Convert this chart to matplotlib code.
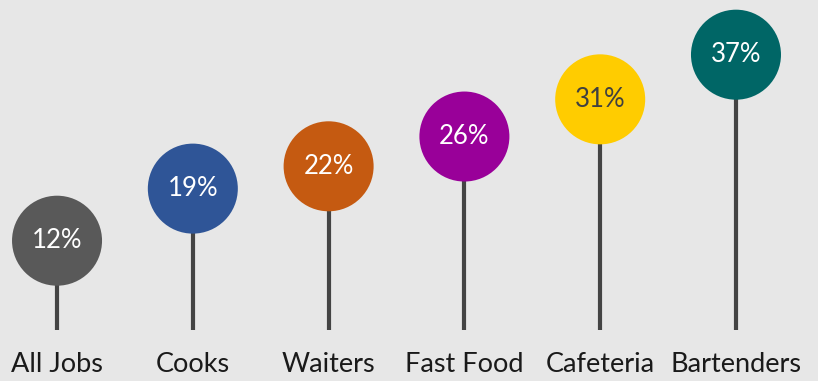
import matplotlib.pyplot as plt

categories = ["All Jobs", "Cooks", "Waiters", "Fast Food", "Cafeteria", "Bartenders"]
values = [12, 19, 22, 26, 31, 37]
colors = ["#595959", "#2f5597", "#c55a11", "#990099", "#ffcc00", "#006666"]
label_colors = ["white", "white", "white", "white", "#404040", "white"]

plt.rcParams["font.family"] = ["Lato", "DejaVu Sans"]

bg = "#e7e7e7"
fig = plt.figure(figsize=(8.18, 3.81), dpi=100, facecolor=bg)
ax = fig.add_axes([0, 0, 1, 1])
ax.set_facecolor(bg)

x = list(range(len(categories)))

# stems from zero up to the value
ax.vlines(x, 0, values, color="#444444", linewidth=3, zorder=1)
ax.scatter(x, values, s=4200, c=colors, zorder=2, linewidths=0)

for i, (v, lc) in enumerate(zip(values, label_colors)):
    ax.text(i, v, f"{v}%", ha="center", va="center", fontsize=18.5,
            color=lc, zorder=3)
    ax.annotate(categories[i], (i, 0), xytext=(0, -25), textcoords="offset points",
                ha="center", va="center", fontsize=19.5, color="#1a1a1a")

ax.set_xlim(-0.42, 5.604)
ax.set_ylim(-6.855, 44.35)
ax.axis("off")

fig.savefig("out.png", dpi=100, facecolor=bg)
